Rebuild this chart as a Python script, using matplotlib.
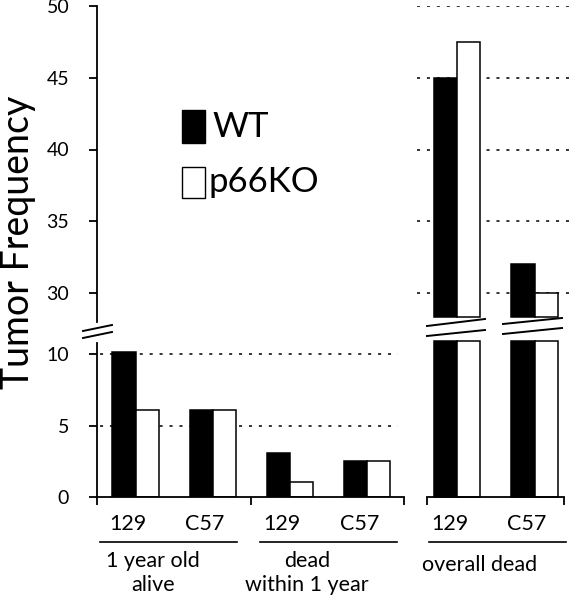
import matplotlib
matplotlib.use("Agg")
import matplotlib.pyplot as plt
import numpy as np
from matplotlib.patches import Rectangle

plt.rcParams['font.family'] = ['Lato', 'DejaVu Sans']

# ---- data ----
series = ['WT', 'p66KO']
categories_left = ['129', 'C57', '129', 'C57']
groups_left = ['1 year old\nalive', 'dead\nwithin 1 year']
wt_left = [10.1, 6.1, 3.1, 2.55]
ko_left = [6.1, 6.1, 1.05, 2.55]
categories_right = ['129', 'C57']
group_right = 'overall dead'
wt_right = [45.0, 32.0]
ko_right = [47.5, 30.0]
ticks_low = [0, 5, 10]
ticks_high = [30, 35, 40, 45, 50]

W, H = 569, 599
fig = plt.figure(figsize=(W / 100, H / 100), dpi=100)


def rect(l, t, r, b):
    return [l / W, 1 - b / H, (r - l) / W, (b - t) / H]


LOW_TOP = 10.75
CUT_LOW = 10.9
CUT_HIGH = 28.35
bw = 0.3
lw = 1.1
grid_kw = dict(color='black', lw=1.1, dashes=(2, 4.5), zorder=0)
TICK_FS = 14
CAT_FS = 15.5
GROUP_FS = 15.5

# ---------- lower left ----------
axll = fig.add_axes(rect(97, 343, 404, 497.3))
x = np.arange(len(categories_left))
axll.bar(x - bw / 2, wt_left, bw, color='black', edgecolor='black', lw=lw, zorder=2)
axll.bar(x + bw / 2, ko_left, bw, color='white', edgecolor='black', lw=lw, zorder=2)
axll.set_xlim(-0.5, 3.48)
axll.set_ylim(0, LOW_TOP)
for v in ticks_low[1:]:
    axll.axhline(v, xmin=0.01, xmax=0.98, **grid_kw)
axll.set_yticks(ticks_low)
axll.set_xticks([-0.5, 1.5, 3.48])
axll.set_xticklabels([])
axll.tick_params(axis='both', direction='out', length=6, width=1.3, labelsize=TICK_FS, pad=14)
for s in ['top', 'right']:
    axll.spines[s].set_visible(False)
for s in ['left', 'bottom']:
    axll.spines[s].set_linewidth(1.3)
for i, c in enumerate(categories_left):
    axll.text(i - 0.1, -1.85, c, ha='center', va='center', fontsize=CAT_FS)

# ---------- upper left ----------
axul = fig.add_axes(rect(97, 6, 404, 321.7))
axul.set_ylim(28, 50)
axul.set_xlim(0, 1)
axul.set_yticks(ticks_high)
axul.set_xticks([])
axul.tick_params(axis='y', direction='out', length=6, width=1.3, labelsize=TICK_FS, pad=14)
for s in ['top', 'right', 'bottom']:
    axul.spines[s].set_visible(False)
axul.spines['left'].set_linewidth(1.3)
axul.patch.set_alpha(0)

# ---------- upper right ----------
axur = fig.add_axes(rect(417, 6, 569, 321.7))
xr = np.arange(len(categories_right))
axur.bar(xr - bw / 2, np.array(wt_right) - CUT_HIGH, bw, bottom=CUT_HIGH,
         color='black', edgecolor='black', lw=lw, zorder=2)
axur.bar(xr + bw / 2, np.array(ko_right) - CUT_HIGH, bw, bottom=CUT_HIGH,
         color='white', edgecolor='black', lw=lw, zorder=2)
axur.set_xlim(-0.516, 1.445)
axur.set_ylim(28, 50)
for v in ticks_high:
    axur.axhline(v, **grid_kw)
axur.axis('off')

# ---------- lower right ----------
axlr = fig.add_axes(rect(427, 343, 564, 497.3))
axlr.bar(xr - bw / 2, np.minimum(wt_right, CUT_LOW), bw, color='black',
         edgecolor='black', lw=lw, zorder=2, clip_on=False)
axlr.bar(xr + bw / 2, np.minimum(ko_right, CUT_LOW), bw, color='white',
         edgecolor='black', lw=lw, zorder=2, clip_on=False)
axlr.set_xlim(-0.39, 1.38)
axlr.set_ylim(0, LOW_TOP)
axlr.set_xticks([-0.39, 1.38])
axlr.set_xticklabels([])
axlr.set_yticks([])
axlr.tick_params(axis='x', direction='out', length=6, width=1.3)
for s in ['top', 'right', 'left']:
    axlr.spines[s].set_visible(False)
axlr.spines['bottom'].set_linewidth(1.3)
for i, c in enumerate(categories_right):
    axlr.text(i - 0.1, -1.85, c, ha='center', va='center', fontsize=CAT_FS)

# ---------- overlay in pixel coords ----------
ov = fig.add_axes([0, 0, 1, 1], zorder=10)
ov.set_xlim(0, W)
ov.set_ylim(H, 0)
ov.axis('off')
ov.patch.set_alpha(0)

# break marks
breaks = [
    ((83, 331), (112, 325)), ((83, 338), (112, 332)),
    ((427, 326), (485, 319)), ((427, 336), (485, 330)),
    ((503, 324), (562, 318)), ((503, 334), (562, 328)),
]
for (x0, y0), (x1, y1) in breaks:
    ov.plot([x0, x1], [y0, y1], color='black', lw=1.4)

# group underlines and labels
for (xa, xb) in [(100, 237), (260, 397), (429, 566)]:
    ov.plot([xa, xb], [542, 542], color='black', lw=1.2)
ov.text(153, 573, groups_left[0], ha='center', va='center', fontsize=GROUP_FS, linespacing=1.3)
ov.text(307, 573, groups_left[1], ha='center', va='center', fontsize=GROUP_FS, linespacing=1.3)
ov.text(480, 565, group_right, ha='center', va='center', fontsize=GROUP_FS)

# legend
ov.add_patch(Rectangle((182, 110), 23, 33, facecolor='black', edgecolor='black', lw=1))
ov.add_patch(Rectangle((182, 167), 23, 31, facecolor='white', edgecolor='black', lw=1))
ov.text(212, 127, series[0], ha='left', va='center', fontsize=25)
ov.text(209, 182, series[1], ha='left', va='center', fontsize=25)

# y label
ov.text(0, 242, 'Tumor Frequency', rotation=90, ha='left', va='center', fontsize=27)

fig.savefig('out.png', dpi=100)
